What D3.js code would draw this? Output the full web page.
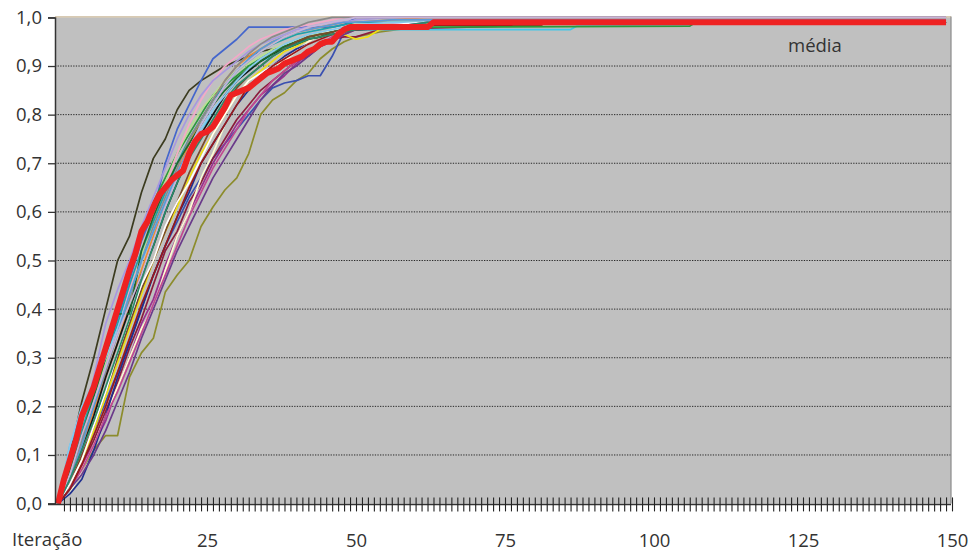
<!DOCTYPE html>
<html><head><meta charset="utf-8">
<script src="https://cdn.jsdelivr.net/npm/d3@7"></script>
<style>
html,body{margin:0;padding:0;background:#fff;}
svg{display:block;font-family:"Open Sans","Noto Sans",sans-serif;}
</style></head>
<body><svg id="c" width="970" height="552"></svg>
<script>
// iterations at which the runs were read
const ITER = [0,2,4,6,8,10,12,14,16,18,20,22,24,26,28,30,32,34,36,38,40,42,44,46,48,50];
const runColors = ['#3b3b1f','#8c8c2c','#4466cc','#3a50b0','#8b1c3c','#9b2f8f','#40c8e8','#f0e010','#2a9a3a','#b8e090','#f4a8c8','#fffbd0','#f08a30','#1f2f8f','#20a0a8','#a898e0','#c04890','#8a8a8a','#151515','#1e6b2e','#88c8f0','#7a4a2a','#ffffff','#6a3a8a','#9a1a1a','#5a9ad8','#c8b4d8','#2a8a6a'];
const runs = [
 [0,.10,.21,.30,.40,.50,.55,.64,.71,.75,.81,.85,.87,.885,.90,.91,.92,.93,.935,.94,.95,.955,.96,.97,.975,.98],
 [0,.03,.07,.11,.14,.14,.26,.31,.34,.435,.47,.50,.57,.61,.645,.67,.72,.80,.83,.845,.87,.885,.915,.935,.95,.96],
 [0,.07,.15,.22,.30,.38,.46,.54,.60,.70,.77,.82,.87,.915,.935,.955,.98,.98,.98,.98,.98,.98,.98,.98,.985,1.0],
 [0,.03,.09,.15,.21,.27,.33,.40,.47,.53,.58,.63,.67,.71,.74,.77,.80,.83,.855,.865,.87,.88,.88,.92,.97,.98],
 [0,.04,.08,.13,.19,.25,.32,.38,.45,.52,.56,.62,.66,.71,.75,.79,.82,.85,.87,.89,.91,.92,.94,.955,.96,.96],
 [0,.03,.08,.12,.17,.24,.30,.37,.42,.49,.55,.60,.65,.70,.74,.78,.81,.84,.86,.88,.905,.925,.94,.95,.965,.975],
 [0,.12,.18,.24,.31,.36,.42,.50,.56,.62,.67,.72,.77,.80,.84,.87,.89,.91,.92,.935,.945,.955,.965,.97,.975,.975],
 [0,.04,.09,.15,.22,.29,.36,.43,.50,.56,.61,.67,.72,.76,.80,.84,.87,.89,.91,.93,.94,.955,.96,.965,.965,.955],
 [0,.08,.17,.25,.32,.40,.47,.55,.62,.67,.72,.76,.80,.84,.86,.88,.90,.915,.93,.94,.95,.96,.965,.97,.975,.975],
 [0,.06,.14,.22,.29,.36,.44,.51,.58,.66,.72,.77,.81,.84,.87,.89,.905,.92,.935,.945,.955,.96,.97,.975,.98,.985],
 [0,.06,.13,.20,.28,.36,.44,.52,.59,.65,.72,.78,.83,.87,.90,.92,.94,.955,.965,.975,.98,.985,.99,.995,1.0,1.0],
 [0,.02,.07,.12,.18,.24,.30,.36,.40,.48,.55,.60,.67,.72,.78,.82,.85,.88,.90,.91,.93,.95,.965,.975,.98,.99],
 [0,.05,.12,.19,.26,.33,.41,.48,.55,.62,.68,.74,.79,.83,.87,.90,.92,.935,.95,.96,.97,.975,.98,.985,.99,.99],
 [0,.02,.05,.11,.18,.26,.33,.40,.47,.53,.59,.64,.70,.74,.78,.82,.85,.88,.90,.92,.935,.945,.955,.965,.975,.98],
 [0,.07,.15,.23,.30,.37,.45,.52,.58,.64,.70,.75,.79,.83,.86,.89,.91,.93,.945,.955,.965,.97,.975,.98,.985,.99],
 [0,.08,.17,.26,.37,.44,.50,.57,.63,.69,.75,.80,.84,.87,.89,.91,.93,.945,.955,.965,.975,.98,.985,.99,.99,.995],
 [0,.03,.07,.12,.18,.23,.29,.35,.41,.47,.53,.59,.64,.69,.73,.77,.81,.84,.87,.89,.91,.93,.945,.96,.97,.975],
 [0,.06,.13,.20,.27,.35,.42,.50,.57,.63,.69,.75,.79,.83,.87,.90,.925,.945,.96,.97,.98,.99,.995,1.0,1.0,1.0],
 [0,.05,.11,.18,.26,.33,.40,.47,.53,.60,.66,.72,.76,.80,.84,.87,.89,.91,.925,.935,.945,.955,.96,.965,.975,.975],
 [0,.07,.14,.22,.30,.39,.39,.52,.59,.65,.70,.74,.78,.82,.85,.875,.895,.91,.925,.94,.95,.96,.965,.97,.975,.98],
 [0,.12,.20,.25,.30,.36,.43,.50,.56,.62,.68,.73,.77,.81,.84,.87,.895,.915,.93,.945,.955,.965,.97,.975,.98,.985],
 [0,.04,.10,.16,.23,.30,.37,.44,.50,.56,.62,.68,.73,.78,.82,.855,.88,.90,.92,.935,.95,.96,.965,.97,.975,.98],
 [0,.04,.09,.16,.23,.31,.38,.45,.50,.57,.62,.66,.71,.76,.80,.84,.87,.885,.90,.915,.93,.945,.955,.965,.975,.98],
 [0,.03,.06,.10,.15,.21,.27,.34,.40,.46,.52,.57,.62,.67,.71,.75,.79,.83,.86,.885,.90,.92,.94,.955,.965,.975],
 [0,.03,.08,.14,.20,.27,.34,.41,.47,.53,.59,.65,.70,.74,.78,.82,.86,.88,.90,.915,.93,.945,.955,.965,.97,.975],
 [0,.05,.12,.20,.28,.35,.43,.50,.56,.62,.68,.73,.78,.82,.86,.89,.915,.935,.95,.96,.97,.975,.98,.985,.99,.99],
 [0,.06,.14,.21,.28,.35,.41,.47,.54,.61,.67,.73,.78,.82,.86,.89,.91,.93,.945,.96,.97,.98,.985,.99,.995,1.0],
 [0,.05,.11,.17,.24,.31,.38,.46,.53,.60,.66,.71,.75,.79,.83,.86,.88,.90,.92,.935,.945,.955,.96,.965,.97,.975]
];
// plateau after iteration 50: [iteration, value]
const runTails = [
 [[56,.98],[62,.99],[149,.99]],
 [[54,.97],[60,.98],[62,.99],[149,.99]],
 [[149,1.0]],
 [[56,.985],[62,.99],[149,.99]],
 [[54,.975],[81,.984],[82,.99],[149,.99]],
 [[56,.984],[80,.984],[81,.99],[149,.99]],
 [[86,.975],[87,.982],[106,.982],[107,.99],[149,.99]],
 [[52,.96],[54,.975],[62,.985],[149,.99]],
 [[60,.98],[106,.982],[107,.99],[149,.99]],
 [[56,.99],[62,1.0],[149,1.0]],
 [[149,1.0]],
 [[56,.99],[149,.99]],
 [[56,.995],[62,1.0],[149,1.0]],
 [[56,.984],[78,.984],[79,.99],[149,.99]],
 [[56,.99],[149,.99]],
 [[56,1.0],[149,1.0]],
 [[56,.984],[72,.984],[73,.99],[149,.99]],
 [[149,1.0]],
 [[62,.978],[63,.99],[149,.99]],
 [[56,.98],[62,.99],[149,.99]],
 [[56,.99],[149,.99]],
 [[56,.984],[81,.984],[82,.99],[149,.99]],
 [[56,.985],[62,.99],[149,.99]],
 [[56,.98],[62,.99],[149,.99]],
 [[56,.984],[76,.984],[77,.99],[149,.99]],
 [[56,.995],[149,.995]],
 [[149,1.0]],
 [[56,.98],[62,.99],[149,.99]]
];
// média (average) [iteration, value]
const media = [[0,0],[1,.05],[2,.09],[3,.13],[4,.18],[5,.21],[6,.24],[7,.28],[8,.32],[9,.36],[10,.40],[11,.44],[12,.48],[13,.515],[14,.56],[15,.58],[16,.61],[17,.635],[18,.65],[19,.665],[20,.675],[21,.685],[22,.72],[23,.745],[24,.76],[25,.765],[26,.775],[27,.795],[28,.815],[29,.84],[30,.845],[31,.85],[32,.855],[33,.865],[34,.875],[35,.885],[36,.89],[37,.895],[38,.905],[39,.91],[40,.915],[41,.92],[42,.93],[43,.935],[44,.945],[45,.95],[46,.95],[47,.965],[48,.975],[49,.98],[62,.98],[63,.99],[149,.99]];
const yTicks = [0,0.1,0.2,0.3,0.4,0.5,0.6,0.7,0.8,0.9,1.0];
const xLabels = [25,50,75,100,125,150];
const xTickIters = d3.range(1,151);
const xTitle = 'Iteração';
const mediaLabel = 'média';

const svg = d3.select('#c');
const L = 55, R = 951, T = 17.4, B = 503.6;
const x = d3.scaleLinear().domain([0,150]).range([58,952]);
const y = d3.scaleLinear().domain([0,1]).range([B,T]);

svg.append('rect').attr('x',L).attr('y',T).attr('width',R-L).attr('height',B-T).attr('fill','#c0c0c0');
// gridlines
svg.append('g').selectAll('line').data(yTicks.filter(d=>d>0&&d<1)).join('line')
  .attr('x1',L).attr('x2',R).attr('y1',d=>y(d)).attr('y2',d=>y(d))
  .attr('stroke','#2a2a2a').attr('stroke-width',1).attr('stroke-dasharray','1.3,1.3');
// borders
svg.append('line').attr('x1',L).attr('x2',R).attr('y1',T-0.5).attr('y2',T-0.5).attr('stroke','#cbb99a').attr('stroke-width',1.2);
svg.append('line').attr('x1',R).attr('x2',R).attr('y1',T-1).attr('y2',B).attr('stroke','#8a8a8a').attr('stroke-width',1.2);

const line = d3.line().x(d=>x(d[0])).y(d=>y(d[1]));
const g = svg.append('g');
runs.forEach((vals,k)=>{
  const pts = ITER.map((it,j)=>[it,vals[j]]).concat(runTails[k]);
  g.append('path').attr('d',line(pts)).attr('fill','none')
   .attr('stroke',runColors[k]).attr('stroke-width',1.7).attr('stroke-linejoin','round');
});
svg.append('path').attr('d',line(media)).attr('fill','none')
  .attr('stroke','#ee2222').attr('stroke-width',6).attr('stroke-linejoin','round');

// axes
const yAx = svg.append('g').attr('transform',`translate(${L},0)`)
  .call(d3.axisLeft(y).tickValues(yTicks).tickSize(7).tickPadding(6).tickFormat(d=>d.toFixed(1).replace('.',',')));
yAx.select('.domain').attr('stroke','#333').attr('stroke-width',1.5);
yAx.selectAll('.tick line').attr('stroke','#333').attr('stroke-width',1.3);
yAx.selectAll('text').attr('font-size','18.5px').attr('fill','#333').attr('font-family','"Open Sans","Noto Sans",sans-serif');

const xAx = svg.append('g').attr('transform',`translate(0,${B+0.8})`)
  .call(d3.axisBottom(x).tickValues(xTickIters).tickSize(7).tickFormat(''));
xAx.select('.domain').attr('d',`M${L-7},0H${R}`).attr('stroke','#333').attr('stroke-width',1.5);
xAx.selectAll('.tick line').attr('y1',-7).attr('y2',7).attr('stroke','#222').attr('stroke-width',1.1);

const xLab = svg.append('g').attr('transform',`translate(0,${B})`)
  .call(d3.axisBottom(x).tickValues(xLabels).tickSize(0).tickPadding(30));
xLab.select('.domain').remove();
xLab.selectAll('text').attr('font-size','18.5px').attr('fill','#333').attr('font-family','"Open Sans","Noto Sans",sans-serif');

svg.append('text').attr('x',12).attr('y',546).text(xTitle)
  .attr('font-size','18.5px').attr('fill','#333');
svg.append('text').attr('x',x(127)).attr('y',52).attr('text-anchor','middle').text(mediaLabel)
  .attr('font-size','18.5px').attr('fill','#333');
</script></body></html>
